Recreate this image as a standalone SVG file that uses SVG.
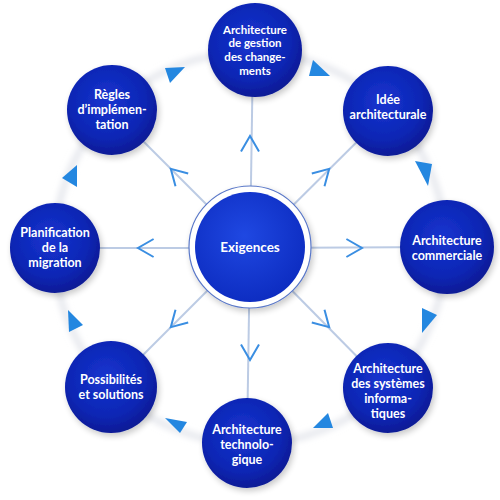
<svg xmlns="http://www.w3.org/2000/svg" width="500" height="500" viewBox="0 0 500 500">
<defs>
<radialGradient id="gNode" cx="45%" cy="40%" r="60%">
<stop offset="0" stop-color="#1634d0"/>
<stop offset="0.7" stop-color="#0d26b4"/>
<stop offset="1" stop-color="#0a1a96"/>
</radialGradient>
<radialGradient id="gCenter" cx="45%" cy="40%" r="65%">
<stop offset="0" stop-color="#1f48e2"/>
<stop offset="1" stop-color="#0c2bbf"/>
</radialGradient>
<filter id="shadow" x="-30%" y="-30%" width="160%" height="160%">
<feGaussianBlur in="SourceAlpha" stdDeviation="3"/>
<feOffset dx="2" dy="3"/>
<feComponentTransfer><feFuncA type="linear" slope="0.22"/></feComponentTransfer>
<feMerge><feMergeNode/><feMergeNode in="SourceGraphic"/></feMerge>
</filter>
<filter id="blur" x="-10%" y="-10%" width="120%" height="120%">
<feGaussianBlur stdDeviation="3"/>
</filter>
<style>
.node{fill:url(#gNode);filter:url(#shadow)}
.lbl{font-family:Lato,"Open Sans","Liberation Sans",sans-serif;font-weight:bold;font-size:12.5px;fill:#ffffff;text-anchor:middle}
.sm{font-size:11.5px}
.spoke{stroke:#bccbe4;stroke-width:2;fill:none}
.chev{stroke:#3a8ee2;stroke-width:2;fill:none;stroke-linejoin:miter}
.tri{fill:#2487e0}
</style>
</defs>
<rect width="500" height="500" fill="#ffffff"/>
<circle cx="250" cy="248" r="196" fill="none" stroke="#e4e6ec" stroke-width="6" filter="url(#blur)"/>
<g id="connectors">
<line class="spoke" x1="250" y1="248" x2="253" y2="50"/>
<line class="spoke" x1="250" y1="248" x2="388" y2="111"/>
<line class="spoke" x1="250" y1="248" x2="447" y2="247"/>
<line class="spoke" x1="250" y1="248" x2="388" y2="388"/>
<line class="spoke" x1="250" y1="248" x2="247" y2="442"/>
<line class="spoke" x1="250" y1="248" x2="111" y2="387"/>
<line class="spoke" x1="250" y1="248" x2="55" y2="248"/>
<line class="spoke" x1="250" y1="248" x2="112" y2="110"/>
<path class="chev" d="M241,151.6 L250,136 L259,151.6"/>
<path class="chev" d="M311.8,173.5 L329.2,168.8 L324.5,186.2"/>
<path class="chev" d="M346.4,239 L362,248 L346.4,257"/>
<path class="chev" d="M311.8,322.5 L329.2,327.2 L324.5,309.8"/>
<path class="chev" d="M241,344.4 L250,360 L259,344.4"/>
<path class="chev" d="M175.5,309.8 L170.8,327.2 L188.2,322.5"/>
<path class="chev" d="M153.6,239 L138,248 L153.6,257"/>
<path class="chev" d="M188.2,173.5 L170.8,168.8 L175.5,186.2"/>
<polygon class="tri" points="313,60 330,76 309,76"/>
<polygon class="tri" points="415,161 432,164 428,186"/>
<polygon class="tri" points="422,308 437,315 422,333"/>
<polygon class="tri" points="313,428 328,413 333,428"/>
<polygon class="tri" points="165,418 187,422 180,433"/>
<polygon class="tri" points="68,310 83,325 69,332"/>
<polygon class="tri" points="77,165 62,178 77,187"/>
<polygon class="tri" points="165,68 185,67 170,83"/>
</g>
<g id="n-center">
<circle cx="250" cy="247" r="61" fill="#ffffff" stroke="#5a78c8" stroke-width="1.2" filter="url(#shadow)"/>
<circle cx="250" cy="247" r="55" fill="url(#gCenter)"/>
<text class="lbl" x="250" y="252" style="font-size:13.5px">Exigences</text>
</g>
<g id="n-gestion">
<circle class="node" cx="255" cy="50" r="47"/>
<text class="lbl sm" x="255" y="33.5">Architecture</text>
<text class="lbl sm" x="255" y="47.4">de gestion</text>
<text class="lbl sm" x="255" y="61.3">des change-</text>
<text class="lbl sm" x="255" y="75.2">ments</text>
</g>
<g id="n-idee">
<circle class="node" cx="388" cy="111" r="45"/>
<text class="lbl" x="388" y="104">Idée</text>
<text class="lbl" x="388" y="119">architecturale</text>
</g>
<g id="n-commerciale">
<circle class="node" cx="447" cy="247" r="47"/>
<text class="lbl" x="447" y="245">Architecture</text>
<text class="lbl" x="447" y="260">commerciale</text>
</g>
<g id="n-si">
<circle class="node" cx="388" cy="388" r="45"/>
<text class="lbl" x="388" y="373">Architecture</text>
<text class="lbl" x="388" y="388">des systèmes</text>
<text class="lbl" x="388" y="403">informa-</text>
<text class="lbl" x="388" y="418">tiques</text>
</g>
<g id="n-techno">
<circle class="node" cx="247" cy="443" r="45"/>
<text class="lbl" x="247" y="434">Architecture</text>
<text class="lbl" x="247" y="449">technolo-</text>
<text class="lbl" x="247" y="464">gique</text>
</g>
<g id="n-possibilites">
<circle class="node" cx="111" cy="387" r="46"/>
<text class="lbl" x="111" y="384">Possibilités</text>
<text class="lbl" x="111" y="399">et solutions</text>
</g>
<g id="n-planification">
<circle class="node" cx="55" cy="248" r="45"/>
<text class="lbl" x="55" y="237">Planification</text>
<text class="lbl" x="55" y="252">de la</text>
<text class="lbl" x="55" y="267">migration</text>
</g>
<g id="n-regles">
<circle class="node" cx="112" cy="110" r="45"/>
<text class="lbl" x="112" y="99">Règles</text>
<text class="lbl" x="112" y="114">d’implémen-</text>
<text class="lbl" x="112" y="129">tation</text>
</g>
</svg>
